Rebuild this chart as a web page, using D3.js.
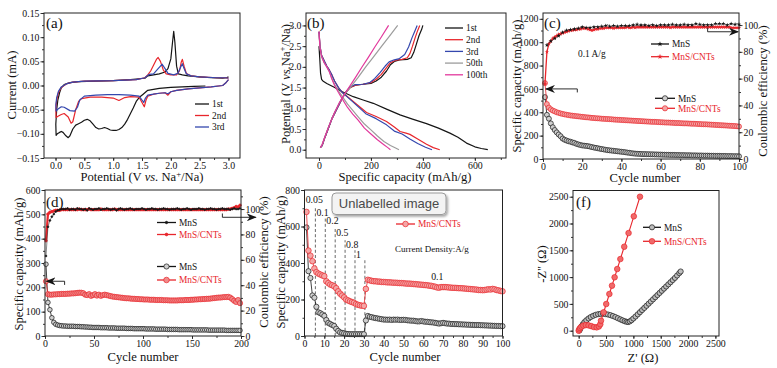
<!DOCTYPE html>
<html><head><meta charset="utf-8">
<script src="https://cdn.jsdelivr.net/npm/d3@7"></script>
<style>
body{margin:0;background:#fff}svg{display:block}
svg text{font-family:"Liberation Serif","DejaVu Serif","Times New Roman",Times,serif}
</style>
</head><body><script>
// ================= DATA =================
// (a) CV curves: [potential V, current mA]
const cv1st = [[2.6,-0.001],[2.4,-0.002],[2.2,-0.003],[2.0,-0.004],[1.8,-0.006],[1.6,-0.01],[1.52,-0.018],[1.45,-0.025],[1.4,-0.033],[1.35,-0.046],[1.3,-0.058],[1.25,-0.07],[1.2,-0.08],[1.15,-0.087],[1.1,-0.091],[1.05,-0.093],[1.0,-0.093],[0.95,-0.092],[0.9,-0.089],[0.85,-0.087],[0.8,-0.089],[0.75,-0.09],[0.7,-0.087],[0.65,-0.08],[0.6,-0.073],[0.55,-0.07],[0.5,-0.072],[0.45,-0.076],[0.4,-0.079],[0.35,-0.082],[0.3,-0.09],[0.25,-0.104],[0.22,-0.108],[0.18,-0.104],[0.13,-0.097],[0.1,-0.095],[0.07,-0.097],[0.03,-0.1],[0.01,-0.103],[0.005,-0.08],[0.02,-0.05],[0.04,-0.03],[0.07,-0.015],[0.1,-0.005],[0.15,0.002],[0.25,0.006],[0.4,0.008],[0.7,0.009],[1.0,0.01],[1.3,0.012],[1.45,0.014],[1.55,0.015],[1.6,0.02],[1.7,0.022],[1.8,0.024],[1.9,0.028],[1.95,0.035],[2.0,0.055],[2.03,0.09],[2.05,0.112],[2.07,0.09],[2.1,0.04],[2.13,0.024],[2.2,0.022],[2.3,0.02],[2.5,0.018],[2.7,0.016],[2.9,0.015],[2.97,0.016],[3.0,0.018]];
const cv2nd = [[3.0,0.012],[2.95,0.005],[2.9,0.0],[2.7,-0.003],[2.5,-0.005],[2.3,-0.007],[2.1,-0.01],[2.0,-0.013],[1.95,-0.02],[1.9,-0.015],[1.8,-0.016],[1.7,-0.018],[1.6,-0.022],[1.57,-0.03],[1.54,-0.044],[1.5,-0.035],[1.45,-0.024],[1.3,-0.023],[1.2,-0.025],[1.1,-0.031],[1.0,-0.026],[0.8,-0.024],[0.6,-0.024],[0.45,-0.027],[0.4,-0.033],[0.35,-0.05],[0.3,-0.075],[0.27,-0.078],[0.22,-0.065],[0.15,-0.058],[0.1,-0.06],[0.05,-0.063],[0.01,-0.066],[0.005,-0.05],[0.02,-0.03],[0.05,-0.015],[0.1,-0.004],[0.2,0.004],[0.3,0.007],[0.5,0.009],[1.0,0.01],[1.4,0.012],[1.55,0.016],[1.6,0.022],[1.65,0.03],[1.7,0.042],[1.75,0.054],[1.78,0.058],[1.82,0.05],[1.87,0.032],[1.92,0.024],[2.0,0.022],[2.1,0.022],[2.15,0.03],[2.18,0.048],[2.2,0.054],[2.23,0.04],[2.27,0.025],[2.35,0.02],[2.5,0.018],[2.8,0.016],[2.95,0.016],[3.0,0.015]];
const cv3rd = [[3.0,0.012],[2.95,0.005],[2.9,0.0],[2.7,-0.003],[2.5,-0.005],[2.3,-0.007],[2.1,-0.01],[2.0,-0.013],[1.95,-0.017],[1.9,-0.015],[1.8,-0.016],[1.7,-0.018],[1.6,-0.02],[1.56,-0.026],[1.53,-0.035],[1.5,-0.03],[1.45,-0.022],[1.3,-0.02],[1.1,-0.019],[0.9,-0.019],[0.7,-0.02],[0.5,-0.022],[0.42,-0.03],[0.38,-0.045],[0.33,-0.053],[0.25,-0.052],[0.15,-0.045],[0.1,-0.044],[0.05,-0.048],[0.01,-0.053],[0.005,-0.04],[0.02,-0.025],[0.05,-0.012],[0.1,-0.003],[0.2,0.004],[0.3,0.007],[0.5,0.009],[1.0,0.01],[1.4,0.012],[1.55,0.016],[1.6,0.021],[1.63,0.023],[1.7,0.024],[1.78,0.035],[1.85,0.044],[1.9,0.035],[1.95,0.025],[2.05,0.022],[2.12,0.025],[2.17,0.038],[2.2,0.045],[2.23,0.035],[2.27,0.024],[2.35,0.02],[2.5,0.018],[2.8,0.016],[2.95,0.016],[3.0,0.015]];
const cvLabels = ["1st","2nd","3rd"];
const aXTicks = [0,0.5,1,1.5,2,2.5,3];
const aYTicks = [-0.15,-0.1,-0.05,0,0.05,0.1,0.15];

// (b) charge/discharge: [capacity mAh/g, potential V]
const b1Dis = [[0,2.5],[3,2.2],[6,1.85],[10,1.7],[15,1.66],[30,1.6],[55,1.52],[90,1.4],[132,1.28],[170,1.2],[209,1.12],[260,0.98],[312,0.84],[360,0.74],[414,0.63],[460,0.52],[504,0.4],[535,0.3],[568,0.16],[600,0.07],[625,0.03],[650,0.0]];
const b1Chg = [[5,0.05],[12,0.1],[20,0.25],[35,0.5],[50,0.75],[70,1.0],[90,1.25],[105,1.4],[120,1.5],[140,1.56],[170,1.58],[200,1.6],[220,1.66],[240,1.75],[260,1.9],[275,2.05],[290,2.13],[310,2.17],[340,2.18],[355,2.22],[365,2.35],[375,2.55],[385,2.75],[395,2.9],[400,3.0]];
const b2Dis = [[0,2.85],[4,2.5],[10,2.28],[20,2.15],[30,2.02],[40,1.92],[50,1.8],[60,1.66],[75,1.5],[90,1.38],[110,1.28],[140,1.12],[183,0.9],[220,0.8],[260,0.68],[290,0.55],[312,0.44],[335,0.4],[350,0.37],[380,0.26],[414,0.13],[440,0.05],[465,0.0]];
const b2Chg = [[5,0.05],[12,0.1],[20,0.25],[35,0.5],[50,0.75],[70,1.0],[90,1.25],[105,1.4],[120,1.5],[140,1.56],[170,1.58],[200,1.62],[220,1.7],[240,1.82],[260,1.98],[275,2.1],[295,2.16],[320,2.18],[340,2.22],[350,2.32],[360,2.5],[370,2.7],[380,2.88],[388,3.0]];
const b3Dis = [[0,2.85],[4,2.5],[10,2.28],[20,2.15],[30,2.02],[40,1.92],[50,1.8],[60,1.66],[75,1.5],[90,1.38],[110,1.27],[140,1.1],[180,0.87],[220,0.75],[260,0.6],[290,0.45],[320,0.38],[350,0.26],[380,0.15],[410,0.06],[435,0.0]];
const b3Chg = [[5,0.05],[12,0.1],[20,0.25],[35,0.5],[50,0.75],[70,1.0],[90,1.25],[105,1.4],[120,1.52],[140,1.57],[170,1.58],[195,1.62],[215,1.72],[235,1.86],[255,2.02],[270,2.12],[290,2.17],[310,2.2],[330,2.3],[345,2.48],[358,2.7],[370,2.88],[378,3.0]];
const b50Dis = [[0,2.8],[4,2.45],[10,2.25],[20,2.1],[30,2.0],[40,1.88],[50,1.72],[60,1.58],[75,1.42],[90,1.28],[110,1.1],[130,0.95],[150,0.8],[175,0.62],[200,0.48],[225,0.33],[250,0.2],[275,0.1],[295,0.04],[308,0.0]];
const b50Chg = [[5,0.05],[12,0.12],[25,0.35],[40,0.6],[60,0.9],[80,1.15],[100,1.35],[120,1.5],[150,1.74],[180,2.0],[210,2.24],[240,2.49],[270,2.73],[303,3.0]];
const b100Dis = [[0,2.85],[4,2.45],[10,2.25],[20,2.1],[30,2.0],[40,1.88],[50,1.7],[60,1.55],[75,1.38],[90,1.22],[110,1.02],[130,0.86],[150,0.72],[175,0.52],[200,0.38],[225,0.24],[250,0.12],[265,0.05],[275,0.0]];
const b100Chg = [[5,0.05],[12,0.12],[25,0.35],[40,0.6],[60,0.9],[80,1.15],[100,1.36],[115,1.5],[140,1.74],[165,1.99],[190,2.23],[215,2.48],[240,2.72],[268,3.0]];
const bLabels = ["1st","2nd","3rd","50th","100th"];
const bXTicks = [0,200,400,600];
const bYTicks = [0,0.5,1,1.5,2,2.5,3];

// (c) cycling at 0.1 A/g, cycles 1..100
const cCycles = d3.range(1, 101);
const cMnSCap = [530,378,345,305,272,248,228,210,195,175,165,158,152,148,142,138,130,125,120,116,114,112,110,106,102,98,95,92,88,85,82,79,76,74,72,70,68,66,64,62,60,58,55,53,50,48,46,45,44,43,42,42,41,41,40,40,39,39,38,38,37,37,36,36,35,35,35,34,34,33,33,33,32,32,32,31,31,31,30,30,30,29,29,29,28,28,28,27,27,27,26,26,26,25,25,25,24,24,24,23];
const cCNTCap = [650,470,440,425,415,408,400,395,390,386,382,379,376,373,371,369,367,365,363,361,359,357,356,354,352,351,349,348,347,345,344,343,342,341,340,338,337,336,335,334,333,332,331,330,329,328,327,326,325,324,323,322,321,320,319,318,318,317,316,315,314,313,312,312,311,310,309,308,308,307,306,305,305,304,303,302,302,301,300,299,298,297,297,296,295,294,293,292,291,290,289,288,287,286,285,284,283,282,280,278];
const cMnSCE = [62,85,87,88,89,90,91,92,93,94.5,95.5,96,96.5,96.5,97,97,97.5,97.5,98,98.5,98.5,98,98.5,98,98.5,98.5,99,98.5,99,99,99,99.5,100.5,99,99,99.5,99.5,99,99.5,99.5,99.5,99.5,99,99.5,99.5,100,99.5,100.5,99.5,100,99.5,100,100,99.5,100.5,100,100,99.5,100,100,100,100,99.5,100,100,100.5,100,100,99.5,100,100,100.5,100,100,100.5,100,100,101,100,100.5,100,100,100.5,100,100.5,100,100,101,100.5,101,100.5,101,100.5,100,100.5,101,100.5,100.5,101,100.5];
const cCNTCE = [56,80,86,88,90,91,92,93,93.5,94,94.5,95,95.5,96,96,96.5,96.5,97,97,97.5,97.5,97.5,97,96.5,96,96.5,97,97,97.5,97.5,97.5,98,98,98,98,97.5,98,98,98,98,98,98,98.5,98,98,98.5,98,98.5,98.5,98.5,98.5,98.5,98.5,98.5,98.5,98.5,98.5,98.5,98.5,98.5,98.5,98.5,98.5,98.5,98,98.5,98.5,98.5,98.5,98.5,98.5,98.5,98.5,98.5,98.5,98.5,98.5,98.5,98.5,98.5,98.5,98.5,98.5,98.5,98.5,98.5,98.5,98.5,98.5,98.5,98.5,98.5,98.5,98.5,98.5,98,98,98,98,98];
const cXTicks = [0,20,40,60,80,100];
const cYTicks = [0,200,400,600,800,1000,1200];
const ceTicks = [0,20,40,60,80,100];

// (d) long cycling, cycles 1,3,...,199
const dCycles = d3.range(1, 201, 2);
const dMnSCap = [295,138,108,75,56,48,45,43,42,41,41,40,40,40,40,39,39,39,38,38,37,37,36,36,35,35,35,35,34,34,34,34,33,33,33,33,32,32,32,32,32,31,31,31,31,30,30,30,30,30,30,29,29,29,29,29,28,28,28,28,28,28,27,27,27,27,27,27,26,26,26,26,26,26,26,25,25,25,25,25,25,25,25,24,24,24,24,24,24,24,24,24,23,23,23,23,23,23,23,23];
const dCNTCap = [225,172,170,170,171,171,172,172,173,173,173,174,174,175,175,176,177,178,178,176,170,168,172,165,168,172,166,170,165,168,170,168,166,164,162,161,160,159,158,157,156,155,155,154,153,153,152,152,151,151,150,150,150,149,149,149,148,148,148,148,147,147,147,146,146,146,146,146,147,147,147,148,148,148,149,149,150,150,151,151,152,152,153,153,154,155,156,157,158,158,159,160,160,161,158,152,145,140,148,135];
const dMnSCE = [63,86,91,94,96,98,99,99.5,100,100,100,100.5,99.5,100,100,99.5,100.5,100,100,99.5,100,99,100.5,100,99.5,100,100,100.5,99.5,100,100,100.5,100,99.5,100,100,99,100,100.5,100,99.5,100,100,100.5,100,99.5,100,100,100,100.5,100,99.5,100,100,100.5,100,100,99.5,100,100,100.5,100,100,99.5,100,100,100,100.5,100,99.5,100,100,100.5,100,99.5,100,100,100,100.5,100,100,99.5,100,100,100.5,100,100,99.5,100,100,100.5,100,100,100,99.5,100,100.5,100,100,100.5];
const dCNTCE = [75,96,97.5,98,98.5,99,99,99,99.5,99.5,99.5,99.5,99.5,99.5,99.5,99.5,99.5,100,99.5,99.5,99.5,99.5,100,99.5,99.5,99.5,99.5,99.5,100,99.5,99.5,99.5,99.5,99.5,99.5,100,99.5,99.5,99.5,99.5,99.5,99.5,99.5,99.5,99.5,99.5,99.5,99.5,99.5,99.5,99.5,99.5,99.5,99.5,99.5,99.5,99.5,99.5,99.5,99.5,99.5,99.5,99.5,99.5,99.5,99.5,99.5,99.5,99.5,99.5,99.5,99.5,99.5,99.5,99.5,99.5,99.5,99.5,99.5,99.5,99.5,99.5,99.5,99.5,99.5,99.5,99.5,99.5,99.5,99.5,99.5,99.5,99.5,100,100,100.5,101,102,101.5,103];
const dXTicks = [0,50,100,150,200];
const dYTicks = [0,100,200,300,400,500,600];

// (e) rate capability, cycles 1..100
const eCycles = d3.range(1, 101);
const eMnS = [595,355,318,222,210,160,130,125,118,110,88,72,66,60,55,40,28,20,17,15,12,11,10,10,10,10,10,10,10,10,85,110,105,103,100,98,96,94,92,90,90,89,90,88,90,89,90,88,88,89,88,86,85,84,84,82,80,80,82,80,78,78,76,75,74,72,70,68,70,72,70,68,68,66,66,65,65,64,64,63,63,62,62,61,61,60,60,60,59,59,58,58,57,57,56,56,55,55,54,54];
const eCNT = [680,468,440,410,370,350,342,337,332,328,300,290,282,278,272,262,245,232,222,212,200,195,190,186,182,175,171,168,166,165,258,308,305,302,300,300,298,298,296,296,295,294,294,293,292,292,291,290,290,289,288,287,287,286,285,284,283,282,281,280,279,278,276,275,272,270,266,265,268,268,268,267,266,265,264,264,263,262,262,261,260,259,258,257,256,255,254,252,252,251,252,254,256,255,258,256,252,250,247,245];
const rateLabels = ["0.05","0.1","0.2","0.5","0.8","1"];
const rateBounds = [5.5,10.5,15.5,20.5,25.5,30.5];
const rateTops = [700,655,590,525,470,415];
const eXTicks = [0,10,20,30,40,50,60,70,80,90,100];
const eYTicks = [0,200,400,600,800];

// (f) Nyquist plots: [Z', -Z'']
const fMnS = [[15,5],[30,40],[50,80],[75,120],[105,160],[140,195],[180,228],[220,255],[265,278],[310,296],[355,308],[400,314],[445,315],[490,311],[535,302],[580,290],[625,274],[670,255],[715,234],[760,212],[800,194],[840,178],[875,166],[905,162],[935,174],[965,196],[1000,228],[1040,265],[1080,305],[1120,345],[1160,385],[1200,425],[1240,465],[1280,505],[1320,545],[1360,585],[1400,625],[1440,665],[1480,705],[1520,745],[1560,785],[1600,825],[1640,865],[1680,905],[1720,945],[1760,985],[1800,1030],[1840,1075],[1865,1105]];
const fCNT = [[0,0],[10,25],[25,50],[50,75],[85,95],[130,105],[180,100],[230,85],[280,68],[330,62],[370,80],[395,120],[408,187],[456,343],[504,498],[561,685],[609,840],[657,996],[705,1151],[762,1337],[833,1567],[912,1822],[1008,2134],[1121,2500]];
const fTicks = [0,500,1000,1500,2000,2500];
const seriesNames = ["MnS","MnS/CNTs"];

// ================= DRAWING =================
const BLACK="#151515", RED="#e8262c", BLUE="#3447ae", GRAY="#9c9c9c", PINK="#e2389c";
const TICK = 9.8, TITLE = 12.6, LEG = 9.4;
const svg = d3.select("body").append("svg").attr("width",777).attr("height",368);
const defs = svg.append("defs");
defs.append("marker").attr("id","ah").attr("viewBox","0 0 10 8").attr("refX",9).attr("refY",4)
  .attr("markerWidth",10).attr("markerHeight",8).attr("markerUnits","userSpaceOnUse").attr("orient","auto")
  .append("path").attr("d","M0,0 L10,4 L0,8 L3,4 Z").attr("fill",BLACK);
const sh = defs.append("filter").attr("id","sh").attr("x","-10%").attr("y","-30%").attr("width","130%").attr("height","170%");
sh.append("feDropShadow").attr("dx",1.5).attr("dy",1.8).attr("stdDeviation",1.2).attr("flood-color","#000").attr("flood-opacity",0.35);

function axis(make, scale, tr, vals, size, fmt) {
  const g = svg.append("g").attr("transform", tr)
    .call(make(scale).tickValues(vals).tickSize(size).tickPadding(1).tickFormat(fmt || (() => "")));
  g.select(".domain").remove();
  g.selectAll("line").attr("stroke","#222").attr("stroke-width",0.9);
  g.selectAll("text").attr("font-size",TICK).attr("fill","#111");
  return g;
}
function frame(sx, sy) {
  const [l, r] = sx.range(), [b, t] = sy.range();
  svg.append("rect").attr("x",l).attr("y",t).attr("width",r-l).attr("height",b-t)
    .attr("fill","none").attr("stroke","#222").attr("stroke-width",1);
}
function bottomLeft(sx, sy, xt, xm, yt, ym, xf, yf) {
  const b = sy.range()[0], l = sx.range()[0];
  axis(d3.axisBottom, sx, `translate(0,${b})`, xt, 3, xf);
  axis(d3.axisBottom, sx, `translate(0,${b})`, xm, 2);
  axis(d3.axisLeft, sy, `translate(${l},0)`, yt, 3.5, yf);
  axis(d3.axisLeft, sy, `translate(${l},0)`, ym, 2);
}
function rich(t, parts) {
  parts.forEach(p => {
    const s = t.append("tspan").text(p[0]);
    if (p[1] === "i") s.attr("font-style","italic");
    if (p[1] === "sup") s.attr("font-size","70%").attr("dy",-4.5);
    if (p[1] === "after") s.attr("dy",4.5);
  });
  return t;
}
function htitle(x, y, parts) {
  return rich(svg.append("text").attr("x",x).attr("y",y).attr("text-anchor","middle")
    .attr("font-size",TITLE).attr("fill","#111"), parts);
}
function vtitle(x, y, parts) {
  return rich(svg.append("text").attr("transform",`translate(${x},${y}) rotate(-90)`).attr("text-anchor","middle")
    .attr("font-size",TITLE).attr("fill","#111"), parts);
}
function plabel(x, y, s) {
  svg.append("text").attr("x",x).attr("y",y).attr("font-size",15).attr("fill","#111").text(s);
}
function line(data, sx, sy, color, w) {
  svg.append("path").datum(data).attr("fill","none").attr("stroke",color).attr("stroke-width",w)
    .attr("stroke-linejoin","round").attr("d", d3.line().x(d => sx(d[0])).y(d => sy(d[1])));
}
function dots(data, sx, sy, r, stroke, fill, sw) {
  svg.append("g").selectAll("circle").data(data).join("circle")
    .attr("cx", d => sx(d[0])).attr("cy", d => sy(d[1])).attr("r", r)
    .attr("fill", fill).attr("stroke", stroke).attr("stroke-width", sw || 0.7);
}
function stars(data, sx, sy, size, color) {
  svg.append("g").selectAll("path").data(data).join("path")
    .attr("transform", d => `translate(${sx(d[0])},${sy(d[1])})`)
    .attr("d", d3.symbol(d3.symbolStar, size)()).attr("fill", color);
}
function legendRow(x0, x1, y, color, label, marker, tcolor) {
  svg.append("line").attr("x1",x0).attr("x2",x1).attr("y1",y).attr("y2",y).attr("stroke",color).attr("stroke-width",1.3);
  if (marker) marker((x0+x1)/2, y);
  svg.append("text").attr("x",x1+3).attr("y",y+3.2).attr("font-size",LEG).attr("fill",tcolor || color).text(label);
}
function arrow(pts) {
  svg.append("path").attr("d", d3.line()(pts)).attr("fill","none").attr("stroke",BLACK)
    .attr("stroke-width",0.9).attr("marker-end","url(#ah)");
}
const zip = (xs, ys) => xs.map((x, i) => [x, ys[i]]);
const id = d => d;

// ---------- (a) ----------
{
  const sx = d3.scaleLinear().domain([-0.2,3.2]).range([44,240]);
  const sy = d3.scaleLinear().domain([-0.15,0.15]).range([158,13]);
  bottomLeft(sx, sy, aXTicks, d3.range(0,3.01,0.25), aYTicks, d3.range(-0.15,0.151,0.025), d3.format(".1f"), d3.format(".2f"));
  const cols = [BLACK, RED, BLUE];
  [cv1st, cv2nd, cv3rd].forEach((c, i) => line(c, sx, sy, cols[i], 1.2));
  frame(sx, sy);
  cvLabels.forEach((s, i) => legendRow(195, 209, 104 + i*11.5, cols[i], s, null, "#111"));
  plabel(46, 28, "(a)");
  htitle(142, 181, [["Potential (V "],["vs.","i"],[" Na"],["+","sup"],["/Na)","after"]]);
  vtitle(16, 85, [["Current (mA)"]]);
}
// ---------- (b) ----------
{
  const sx = d3.scaleLinear().domain([-50,720]).range([306,506]);
  const sy = d3.scaleLinear().domain([-0.2,3.3]).range([158,13]);
  bottomLeft(sx, sy, bXTicks, d3.range(0,701,100), bYTicks, d3.range(0,3.01,0.25), d3.format("d"), d3.format(".1f"));
  const cols = [BLACK, RED, BLUE, GRAY, PINK];
  [[b1Dis,b1Chg],[b2Dis,b2Chg],[b3Dis,b3Chg],[b50Dis,b50Chg],[b100Dis,b100Chg]].forEach((p, i) => {
    line(p[0], sx, sy, cols[i], 1.2); line(p[1], sx, sy, cols[i], 1.2);
  });
  frame(sx, sy);
  bLabels.forEach((s, i) => legendRow(445, 463, 28 + i*11.7, cols[i], s, null, "#111"));
  plabel(307, 28, "(b)");
  htitle(405, 180.5, [["Specific capacity (mAh/g)"]]);
  vtitle(289.5, 84, [["Potential (V "],["vs.","i"],["Na"],["+","sup"],["/Na)","after"]]);
}
// ---------- (c) ----------
{
  const sx = d3.scaleLinear().domain([0,100]).range([543,739]);
  const sy = d3.scaleLinear().domain([0,1250]).range([159,13]);
  const sr = d3.scaleLinear().domain([0,109]).range([159,13]);
  bottomLeft(sx, sy, cXTicks, d3.range(0,101,10), cYTicks, d3.range(0,1201,100), d3.format("d"), d3.format("d"));
  axis(d3.axisRight, sr, `translate(739,0)`, ceTicks, 3.5, d3.format("d"));
  axis(d3.axisRight, sr, `translate(739,0)`, d3.range(0,101,10), 2);
  const mCap = zip(cCycles, cMnSCap), nCap = zip(cCycles, cCNTCap);
  const mCE = zip(cCycles, cMnSCE), nCE = zip(cCycles, cCNTCE);
  line(mCap, sx, sy, BLACK, 0.8); dots(mCap, sx, sy, 2.5, BLACK, "#cfcfcf");
  line(nCap, sx, sy, RED, 0.8); dots(nCap, sx, sy, 2.5, RED, "#f4a6a6");
  line(nCE, sx, sr, RED, 1.3); stars(nCE, sx, sr, 6, RED);
  line(mCE.slice(1), sx, sr, BLACK, 0.5); stars(mCE.slice(1).filter((d, i) => i % 2 === 0), sx, sr, 6, BLACK);
  frame(sx, sy);
  legendRow(651, 669, 44, BLACK, seriesNames[0], (x,y)=>stars([[x,y]], id, id, 9, BLACK));
  legendRow(651, 669, 56.7, RED, seriesNames[1], (x,y)=>stars([[x,y]], id, id, 9, RED));
  legendRow(655, 675, 98.3, BLACK, seriesNames[0], (x,y)=>dots([[x,y]], id, id, 2.6, BLACK, "#cfcfcf"));
  legendRow(655, 675, 108.3, RED, seriesNames[1], (x,y)=>dots([[x,y]], id, id, 2.6, RED, "#f4a6a6"));
  svg.append("text").attr("x",578).attr("y",57).attr("font-size",LEG).attr("fill","#111").text("0.1 A/g");
  arrow([[sx(17.5), sy(570)], [sx(17.5), sy(600)], [sx(1.5), sy(600)]]);
  arrow([[sx(84), sr(98)], [sx(84), sr(95)], [sx(99.5), sr(95)]]);
  plabel(544, 28, "(c)");
  htitle(645, 181.5, [["Cycle number"]]);
  vtitle(521, 86, [["Specific capacity (mAh/g)"]]);
  vtitle(766.5, 91, [["Coulombic efficiency (%)"]]);
}
// ---------- (d) ----------
{
  const sx = d3.scaleLinear().domain([0,200]).range([45,241]);
  const sy = d3.scaleLinear().domain([0,600]).range([336,190]);
  const sr = d3.scaleLinear().domain([0,115]).range([336,190]);
  bottomLeft(sx, sy, dXTicks, d3.range(0,201,25), dYTicks, d3.range(0,601,50), d3.format("d"), d3.format("d"));
  axis(d3.axisRight, sr, `translate(241,0)`, ceTicks, 3.5, d3.format("d"));
  axis(d3.axisRight, sr, `translate(241,0)`, d3.range(0,111,10), 2);
  const mCap = zip(dCycles, dMnSCap), nCap = zip(dCycles, dCNTCap);
  const mCE = zip(dCycles, dMnSCE), nCE = zip(dCycles, dCNTCE);
  line(mCap, sx, sy, BLACK, 0.8); dots(mCap, sx, sy, 2.3, BLACK, "#cfcfcf");
  line(nCap, sx, sy, RED, 0.8); dots(nCap, sx, sy, 2.6, RED, "#f08a8a");
  line(nCE, sx, sr, RED, 2.2); dots(nCE, sx, sr, 1.3, RED, RED);
  line(mCE, sx, sr, BLACK, 0.5); dots(mCE, sx, sr, 0.9, BLACK, BLACK);
  frame(sx, sy);
  legendRow(157, 176, 222.5, BLACK, seriesNames[0], (x,y)=>dots([[x,y]], id, id, 1.2, BLACK, BLACK));
  legendRow(157, 176, 234.5, RED, seriesNames[1], (x,y)=>dots([[x,y]], id, id, 1.4, RED, RED));
  legendRow(157, 176, 266.5, BLACK, seriesNames[0], (x,y)=>dots([[x,y]], id, id, 2.6, BLACK, "#cfcfcf"));
  legendRow(157, 176, 280, RED, seriesNames[1], (x,y)=>dots([[x,y]], id, id, 2.8, RED, "#f08a8a"));
  arrow([[sx(20), sy(210)], [sx(20), sy(225)], [sx(1.5), sy(225)]]);
  arrow([[sx(181), sr(96.5)], [sx(181), sr(93.5)], [sx(215), sr(93.5)]]);
  plabel(46, 207, "(d)");
  htitle(143, 360.5, [["Cycle number"]]);
  vtitle(23, 264, [["Specific capacity (mAh/g)"]]);
  vtitle(267.5, 262, [["Coulombic efficiency (%)"]]);
}
// ---------- (e) ----------
{
  const sx = d3.scaleLinear().domain([0,100]).range([304.5,502.5]);
  const sy = d3.scaleLinear().domain([0,800]).range([336,190]);
  bottomLeft(sx, sy, eXTicks, d3.range(0,101,5), eYTicks, d3.range(0,801,100), d3.format("d"), d3.format("d"));
  rateBounds.forEach((c, i) => svg.append("line").attr("x1",sx(c)).attr("x2",sx(c)).attr("y1",sy(0)).attr("y2",sy(rateTops[i]))
    .attr("stroke","#444").attr("stroke-width",0.8).attr("stroke-dasharray","3,2.2"));
  const m = zip(eCycles, eMnS), n = zip(eCycles, eCNT);
  line(m, sx, sy, BLACK, 0.8); dots(m, sx, sy, 2.6, BLACK, "#cfcfcf");
  line(n, sx, sy, RED, 0.8); dots(n, sx, sy, 2.8, RED, "#f4a6a6");
  frame(sx, sy);
  rateLabels.forEach((s, i) => {
    const x = i === 0 ? sx(0.6) : sx(rateBounds[i-1]) + 1;
    const y = i === 0 ? 203 : sy(rateTops[i-1]) + 8;
    svg.append("text").attr("x",x).attr("y",y).attr("font-size",TICK).attr("fill","#111").text(s);
  });
  legendRow(396, 415, 211, BLACK, seriesNames[0], (x,y)=>dots([[x,y]], id, id, 2.6, BLACK, "#cfcfcf"));
  legendRow(396, 415, 224, RED, seriesNames[1], (x,y)=>dots([[x,y]], id, id, 2.8, RED, "#f4a6a6"));
  svg.append("text").attr("x",395).attr("y",252).attr("font-size",9).attr("fill","#111").text("Current Density:A/g");
  svg.append("text").attr("x",sx(64)).attr("y",sy(300)-1).attr("font-size",TICK).attr("fill","#111").text("0.1");
  htitle(405, 360.5, [["Cycle number"]]);
  vtitle(285, 262, [["Specific capacity (mAh/g)"]]);
  // overlay tag
  svg.append("rect").attr("x",332).attr("y",193).attr("width",114).attr("height",21.5).attr("rx",4)
    .attr("fill","#f3f3f3").attr("stroke","#9a9a9a").attr("stroke-width",1).attr("filter","url(#sh)");
  svg.append("text").attr("x",389).attr("y",208).attr("text-anchor","middle")
    .style("font-family","'Liberation Sans',Arial,sans-serif")
    .attr("font-size",13).attr("fill","#4a4a4a").text("Unlabelled image");
}
// ---------- (f) ----------
{
  const sx = d3.scaleLinear().domain([-104,2566]).range([573,719]);
  const sy = d3.scaleLinear().domain([-99,2616]).range([336,190.5]);
  bottomLeft(sx, sy, fTicks, d3.range(0,2501,250), fTicks, d3.range(0,2501,250), d3.format("d"), d3.format("d"));
  line(fMnS, sx, sy, BLACK, 0.9); dots(fMnS, sx, sy, 2.6, BLACK, "#bdbdbd");
  line(fCNT, sx, sy, RED, 1.1); dots(fCNT, sx, sy, 2.8, RED, "#f06a6a");
  frame(sx, sy);
  legendRow(643, 661, 227.3, BLACK, seriesNames[0], (x,y)=>dots([[x,y]], id, id, 2.6, BLACK, "#bdbdbd"));
  legendRow(643, 661, 241.3, RED, seriesNames[1], (x,y)=>dots([[x,y]], id, id, 2.8, RED, "#f06a6a"));
  plabel(576, 207, "(f)");
  htitle(643, 361.5, [["Z' (\u03A9)"]]);
  vtitle(545.5, 264, [["-Z'' (\u03A9)"]]);
}
</script></body></html>
